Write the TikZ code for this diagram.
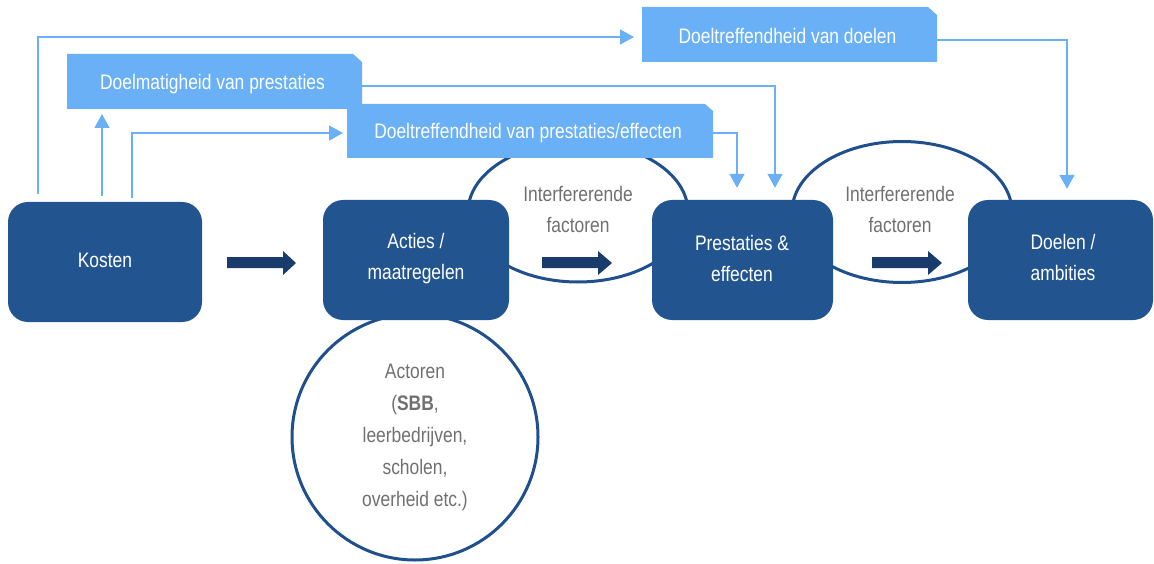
\documentclass[tikz,border=0pt]{standalone}
\usepackage{fontspec}
\setmainfont{Liberation Sans}[FakeStretch=0.83]
\usetikzlibrary{arrows.meta,shapes.geometric}
\definecolor{navy}{HTML}{22558F}
\definecolor{ringc}{HTML}{1F4F8C}
\definecolor{fatc}{HTML}{1A3C6C}
\definecolor{lblue}{HTML}{69B0F7}
\definecolor{greytext}{HTML}{707070}
\begin{document}
\begin{tikzpicture}[x=1pt,y=-1pt,
  mainbox/.style={fill=navy, rounded corners=20pt, inner sep=0pt, minimum height=120pt},
  boxtext/.style={text=white, align=center, inner sep=0pt, font=\fontsize{21}{31}\selectfont},
  lslot/.style={inner sep=0pt, outer sep=0pt, draw=none},
  ltext/.style={text=white, inner sep=0pt, font=\fontsize{21}{31}\selectfont},
  ringline/.style={draw=ringc, line width=3pt, inner sep=0pt},
  conn/.style={draw=lblue, line width=1.5pt, -{Triangle[width=15pt,length=14pt]}},
  fatarrow/.style={fill=fatc},
  gtext/.style={text=greytext, align=center, inner sep=0pt, font=\fontsize{21}{31}\selectfont}]
\useasboundingbox (0,0) rectangle (1154,564);

% rings (behind boxes)
\node[ringline, ellipse, minimum width=220pt, minimum height=140pt] (ie1) at (578,212) {};
\node[ringline, ellipse, minimum width=220pt, minimum height=141pt] (ie2) at (902,212) {};
\node[ringline, circle, minimum size=246pt, gtext, font=\fontsize{21}{32}\selectfont] (act) at (415,437)
  {Actoren\\(\textbf{SBB},\\leerbedrijven,\\scholen,\\overheid etc.)};

% light blue boxes
\node[lslot, minimum width=295pt, minimum height=55pt] (dm) at (214.5,81.5) {};
\fill[lblue] (dm.south west) -- (dm.north west) -- ([xshift=-9pt]dm.north east)
  -- ([yshift=-8pt]dm.north east) -- (dm.south east) -- cycle;
\node[ltext] (dmt) at ([xshift=-2pt,yshift=-2.5pt]dm.center) {Doelmatigheid van prestaties};

\node[lslot, minimum width=295pt, minimum height=55pt] (dd) at (789.5,34.5) {};
\fill[lblue] (dd.south west) -- (dd.north west) -- ([xshift=-9pt]dd.north east)
  -- ([yshift=-8pt]dd.north east) -- (dd.south east) -- cycle;
\node[ltext] (ddt) at ([xshift=-2pt,yshift=-1.5pt]dd.center) {Doeltreffendheid van doelen};

\node[lslot, minimum width=366pt, minimum height=54pt] (dp) at (530,131) {};
\fill[lblue] (dp.south west) -- (dp.north west) -- ([xshift=-8pt]dp.north east)
  -- ([yshift=-7pt]dp.north east) -- (dp.south east) -- cycle;
\node[ltext] (dpt) at ([xshift=-2pt,yshift=-2.5pt]dp.center) {Doeltreffendheid van prestaties/effecten};

% main boxes
\node[mainbox, minimum width=194pt] (kosten) at (105,262) {};
\node[mainbox, minimum width=186pt] (acties) at (416,260) {};
\node[mainbox, minimum width=181pt] (pe) at (742.5,260) {};
\node[mainbox, minimum width=185pt] (doel) at (1060.5,260) {};
\node[boxtext] (kostent) at (105,260) {Kosten};
\node[boxtext] (actiest) at (416,259) {Acties /\\maatregelen};
\node[boxtext] (pet) at (742,258) {Prestaties \&\\effecten};
\node[boxtext] (doelt) at (1063,257) {Doelen /\\ambities};

% interfering factor texts
\node[gtext] (if1) at (578,209) {Interfererende\\factoren};
\node[gtext] (if2) at (900,209) {Interfererende\\factoren};

% light blue connectors
\coordinate (k1) at ([xshift=-67pt,yshift=8pt]kosten.north);
\coordinate (k2) at ([xshift=-3pt,yshift=6pt]kosten.north);
\coordinate (k3) at ([xshift=27pt,yshift=4pt]kosten.north);
\draw[conn, shorten >=8pt] (k1) |- ([yshift=-2.5pt]dd.west);
\draw[conn, shorten >=5pt] (k2) -- ([xshift=-3pt]kosten.north |- dm.south);
\draw[conn, shorten >=4pt] (k3) |- ([yshift=-2pt]dp.west);
\draw[conn, shorten >=12pt] ([yshift=-4.5pt]dm.east) -| ([xshift=32.5pt]pe.north);
\draw[conn, shorten >=12pt] ([yshift=-2pt]dp.east) -| ([xshift=-5.5pt]pe.north);
\draw[conn, shorten >=11pt] ([yshift=-5.5pt]dd.east) -| ([xshift=6.5pt]doel.north);

% fat arrows
\fill[fatarrow] (227,257) -- (283,257) -- (283,251) -- (296,263) -- (283,275) -- (283,268) -- (227,268) -- cycle;
\fill[fatarrow] (542,257) -- (598,257) -- (598,251) -- (612,263) -- (598,275) -- (598,268) -- (542,268) -- cycle;
\fill[fatarrow] (872,257) -- (928,257) -- (928,251) -- (942,263) -- (928,275) -- (928,268) -- (872,268) -- cycle;
\end{tikzpicture}
\end{document}
